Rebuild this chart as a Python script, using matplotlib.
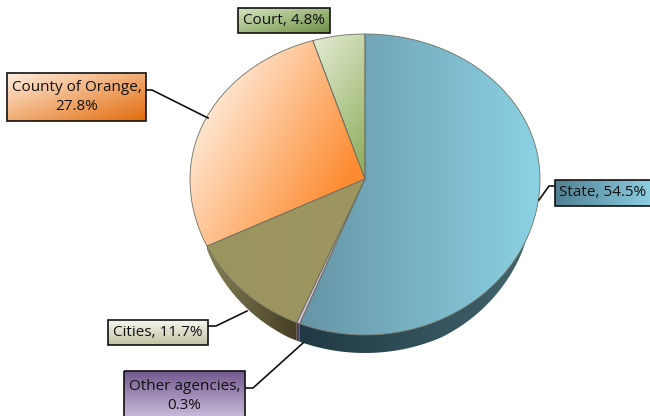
import numpy as np
import matplotlib
matplotlib.use('Agg')
import matplotlib.pyplot as plt
from matplotlib.colors import to_rgb
from matplotlib.patches import Polygon, Rectangle

# clockwise from the top
names = ['State', 'Other agencies', 'Cities', 'County of Orange', 'Court']
shares = [54.5, 0.3, 11.7, 27.8, 4.8]
label_text = ['State, 54.5%', 'Other agencies,\n0.3%', 'Cities, 11.7%',
              'County of Orange,\n27.8%', 'Court, 4.8%']

plt.rcParams['font.family'] = ['Open Sans', 'DejaVu Sans']

W, H = 650, 416
fig = plt.figure(figsize=(W / 100, H / 100), dpi=100)
ax = fig.add_axes([0, 0, 1, 1])

cx, cy = 365, 179
rx, ry_up, ry_down = 175, 145, 156
depth = 18
pie_box = (185, 545, 30, 360)


def rim(deg):
    # deg is clockwise from top, the tilt pushes the front round a bit
    deg = np.asarray(deg, dtype=float)
    d = deg + 4 * np.sin(np.radians(deg / 2)) ** 2
    a = np.radians(d)
    c = np.cos(a)
    x = cx + rx * np.sin(a)
    y = cy - np.where(c > 0, ry_up, ry_down) * c
    # wall height fades out towards the sides
    wall = depth * np.clip((-c - 0.4) / 0.5, 0, 1) ** 0.6
    return x, y, wall


def gradient(box, span, c0, c1, gx, gy, clip=None, z=2):
    # image fills box, colour runs c0 -> c1 across span
    x0, x1, y0, y1 = box
    xx, yy = np.meshgrid(np.linspace(x0, x1, 300), np.linspace(y0, y1, 300))
    u = (xx - span[0]) / (span[1] - span[0])
    v = (yy - span[2]) / (span[3] - span[2])
    t = np.clip((u * gx + v * gy) / (abs(gx) + abs(gy)), 0, 1)[..., None]
    img = np.array(to_rgb(c0)) * (1 - t) + np.array(to_rgb(c1)) * t
    im = ax.imshow(img, extent=(x0, x1, y1, y0), aspect='auto', zorder=z, interpolation='bilinear')
    if clip is not None:
        ax.add_patch(clip)
        im.set_clip_path(clip)
    return im


edges = np.concatenate([[0], np.cumsum(shares)]) / sum(shares) * 360

# top face colours per slice: start, end, gx, gy, gradient span
top_style = {
    'State': ('#6695a6', '#8cd2e4', 1, 0, (300, 540, 30, 340)),
    'Other agencies': ('#cfc4dc', '#cfc4dc', 1, 0, (290, 370, 170, 335)),
    'Cities': ('#9a945f', '#9d9660', 1, 0, (200, 370, 170, 335)),
    'County of Orange': ('#fff8f0', '#fd8a2e', 2, 1, (200, 345, 60, 190)),
    'Court': ('#e6eed8', '#88a852', 1, 2, (313, 368, 30, 182)),
}
side_style = {
    'State': ('#1f3a45', '#45666f', (300, 540, 230, 358)),
    'Other agencies': ('#50405f', '#50405f', (295, 310, 310, 350)),
    'Cities': ('#8a8458', '#3f3820', (200, 304, 240, 350)),
}

# side wall first
for i, name in enumerate(names):
    if name not in side_style:
        continue
    angs = np.linspace(edges[i], edges[i + 1], 150)
    x, y, wall = rim(angs)
    pts = np.r_[np.c_[x, y], np.c_[x, y + wall][::-1]]
    c0, c1, span = side_style[name]
    gradient(pie_box, span, c0, c1, 1, 0, clip=Polygon(pts, closed=True, fc='none', ec='none'), z=1)

# top faces
for i, name in enumerate(names):
    angs = np.linspace(edges[i], edges[i + 1], 150)
    x, y, wall = rim(angs)
    pts = np.r_[[[cx, cy]], np.c_[x, y]]
    c0, c1, gx, gy, span = top_style[name]
    gradient(pie_box, span, c0, c1, gx, gy, clip=Polygon(pts, closed=True, fc='none', ec='none'), z=2)
    ax.add_patch(Polygon(pts, closed=True, fc='none', ec='#6f6f62', lw=0.6, zorder=3))

# label boxes: x0, x1, y0, y1
boxes = {
    'State': (555, 651, 180, 206),
    'Other agencies': (124, 245, 371, 420),
    'Cities': (108, 208, 320, 345),
    'County of Orange': (7, 146, 73, 121),
    'Court': (238, 330, 8, 33),
}
box_style = {
    'State': ('#507f92', '#8ccfe1', 1, 0),
    'Other agencies': ('#73598f', '#cdc1de', 0, 1),
    'Cities': ('#f6f6f0', '#c4c1a2', 0, 1),
    'County of Orange': ('#ffeee0', '#e26b0a', 1, 1),
    'Court': ('#d6e6bf', '#6d8e44', 1, 1),
}
leaders = {
    'State': ([555, 549, 539], [186, 186, 200]),
    'Other agencies': ([245, 253, 303], [388, 388, 343]),
    'Cities': ([208, 216, 247], [326, 326, 311]),
    'County of Orange': ([146, 152, 208], [90, 90, 118]),
}

for name, text in zip(names, label_text):
    b = boxes[name]
    c0, c1, gx, gy = box_style[name]
    gradient(b, b, c0, c1, gx, gy, z=5)
    ax.add_patch(Rectangle((b[0], b[2]), b[1] - b[0], b[3] - b[2], fc='none', ec='#111111', lw=1.2, zorder=6))
    ty = (b[2] + b[3]) / 2 if name != 'Other agencies' else 396
    ax.text((b[0] + b[1]) / 2, ty, text, ha='center', va='center', fontsize=11,
            color='#111111', zorder=7, linespacing=1.35)
    if name in leaders:
        ax.plot(leaders[name][0], leaders[name][1], color='#111111', lw=1.2, zorder=4)

ax.set_xlim(0, W)
ax.set_ylim(H, 0)
ax.axis('off')

fig.savefig('out.png', dpi=100)
